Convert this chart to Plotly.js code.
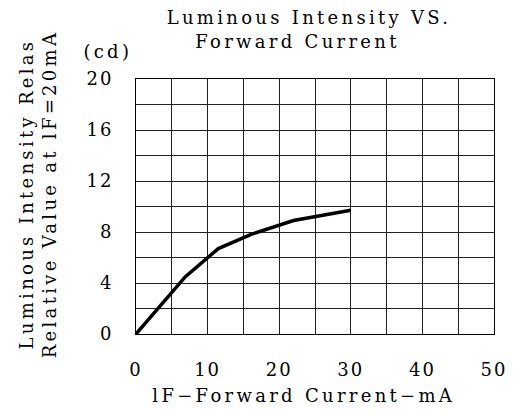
<!DOCTYPE html>
<html>
<head>
<meta charset="utf-8">
<script src="https://cdn.plot.ly/plotly-3.0.1.min.js"></script>
<style>
html,body{margin:0;padding:0;background:#fff;}
#chart{width:520px;height:415px;}
#chart .annotation-text { letter-spacing: 3.3px; }
#chart .xtick text, #chart .ytick text { letter-spacing: 2px; }
</style>
</head>
<body>
<div id="chart"></div>
<script>
// Data
const currentMA = [0, 3.8, 6.9, 11.5, 16, 22, 30];
const intensity = [0, 2.5, 4.5, 6.7, 7.8, 8.9, 9.7];

const xTickVals = [0, 5, 10, 15, 20, 25, 30, 35, 40, 45, 50];
const xTickText = ['0', '', '10', '', '20', '', '30', '', '40', '', '50'];
const yTickVals = [0, 2, 4, 6, 8, 10, 12, 14, 16, 18, 20];
const yTickText = ['0', '', '4', '', '8', '', '12', '', '16', '', '20'];

const titleLine1 = 'Luminous Intensity VS.';
const titleLine2 = 'Forward Current';
const xTitle = 'lF−Forward Current−mA';
const yTitle = 'Luminous Intensity Relas<br>Relative Value at lF=20mA';
const unitLabel = '(cd)';

const FONT = 'DejaVu Serif';
const W = 358, H = 255, L = 136, T = 79;
const px = (x) => (x - L) / W;
const py = (y) => (T + H - y) / H;

const trace = {
  x: currentMA,
  y: intensity,
  type: 'scatter',
  mode: 'lines',
  line: {color: '#000', width: 3.5},
  hoverinfo: 'skip'
};

function ann(text, x, y, extra) {
  return Object.assign({
    text: text,
    xref: 'paper', yref: 'paper',
    x: px(x), y: py(y),
    xanchor: 'center', yanchor: 'middle',
    showarrow: false,
    font: {family: FONT, size: 18, color: '#000'}
  }, extra || {});
}

const layout = {
  width: 520,
  height: 415,
  margin: {l: 136, r: 26, t: 79, b: 81},
  paper_bgcolor: '#fff',
  plot_bgcolor: '#fff',
  showlegend: false,
  font: {family: FONT, color: '#000', size: 18},
  xaxis: {
    range: [0, 50],
    tickvals: xTickVals,
    ticktext: xTickText,
    ticks: '',
    ticklabelstandoff: 19,
    showgrid: true,
    gridcolor: '#222',
    gridwidth: 1,
    zeroline: false,
    showline: true,
    linecolor: '#000',
    linewidth: 1,
    mirror: true,
    tickfont: {family: FONT, size: 18, color: '#000'},
    fixedrange: true
  },
  yaxis: {
    range: [0, 20],
    tickvals: yTickVals,
    ticktext: yTickText,
    ticks: '',
    ticklabelstandoff: 18,
    showgrid: true,
    gridcolor: '#222',
    gridwidth: 1,
    zeroline: false,
    showline: true,
    linecolor: '#000',
    linewidth: 1,
    mirror: true,
    tickfont: {family: FONT, size: 18, color: '#000'},
    fixedrange: true
  },
  annotations: [
    ann(titleLine1, 309, 18),
    ann(titleLine2, 298, 41),
    ann(yTitle, 38, 194, {textangle: -90}),
    ann(unitLabel, 108, 52),
    ann(xTitle, 304, 395)
  ]
};

Plotly.newPlot('chart', [trace], layout, {staticPlot: true, displayModeBar: false});
</script>
</body>
</html>
